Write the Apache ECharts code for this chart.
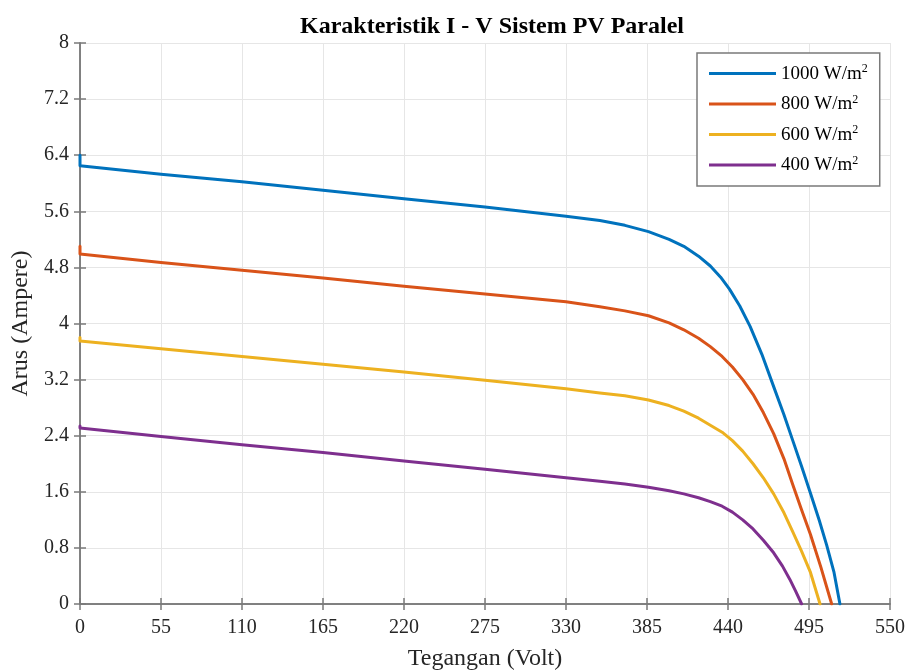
<!DOCTYPE html>
<html><head><meta charset="utf-8">
<script src="https://cdn.jsdelivr.net/npm/echarts@6/dist/echarts.min.js"></script>
<style>html,body{margin:0;padding:0;background:#fff}#c{width:911px;height:670px}</style>
</head><body><div id="c"></div>
<script>
const seriesNames = ['1000 W/m', '800 W/m', '600 W/m', '400 W/m'];
const colors = ['#0072BD', '#D95319', '#EDB120', '#7E2F8E'];
const xTicks = [0, 55, 110, 165, 220, 275, 330, 385, 440, 495, 550];
const yTicks = [0, 0.8, 1.6, 2.4, 3.2, 4, 4.8, 5.6, 6.4, 7.2, 8];

const v1000 = [0, 0, 55, 110, 165, 220, 275, 330, 353, 370, 386, 400, 410, 420, 428, 435, 441, 448, 455, 463, 471, 478, 484, 490, 496, 502, 507, 512, 516];
const i1000 = [6.40, 6.25, 6.13, 6.02, 5.90, 5.78, 5.66, 5.53, 5.47, 5.40, 5.31, 5.20, 5.10, 4.96, 4.82, 4.66, 4.49, 4.25, 3.96, 3.56, 3.10, 2.70, 2.33, 1.96, 1.58, 1.19, 0.84, 0.45, 0];

const v800 = [0, 0, 55, 110, 165, 220, 275, 330, 353, 370, 386, 400, 410, 420, 428, 436, 443, 450, 457, 464, 471, 478, 484, 490, 496, 503, 510.4];
const i800 = [5.10, 4.99, 4.87, 4.76, 4.65, 4.53, 4.42, 4.31, 4.24, 4.18, 4.11, 4.01, 3.91, 3.79, 3.67, 3.53, 3.38, 3.20, 2.99, 2.73, 2.43, 2.07, 1.70, 1.34, 0.99, 0.53, 0];

const v600 = [0, 0, 55, 110, 165, 220, 275, 330, 353, 370, 386, 400, 410, 420, 428, 436, 443, 450, 457, 464, 471, 478, 484, 490, 496, 502.5];
const i600 = [3.80, 3.75, 3.64, 3.53, 3.42, 3.31, 3.19, 3.07, 3.01, 2.97, 2.91, 2.83, 2.75, 2.65, 2.55, 2.45, 2.33, 2.18, 2.00, 1.80, 1.57, 1.30, 1.03, 0.75, 0.45, 0];

const v400 = [0, 0, 55, 110, 165, 220, 275, 330, 353, 370, 386, 400, 410, 420, 428, 436, 443, 450, 457, 464, 471, 477, 482, 486, 490];
const i400 = [2.54, 2.51, 2.39, 2.27, 2.16, 2.04, 1.92, 1.80, 1.75, 1.71, 1.665, 1.615, 1.57, 1.515, 1.46, 1.395, 1.31, 1.20, 1.07, 0.91, 0.73, 0.54, 0.35, 0.18, 0];

const allV = [v1000, v800, v600, v400];
const allI = [i1000, i800, i600, i400];

const font = '"Liberation Serif", "DejaVu Serif", serif';
const chart = echarts.init(document.getElementById('c'));

const series = seriesNames.map((n, k) => ({
  name: n,
  type: 'line',
  showSymbol: false,
  symbol: 'none',
  smooth: false,
  lineStyle: { width: 3, color: colors[k], join: 'round', cap: 'round' },
  itemStyle: { color: colors[k] },
  data: allV[k].map((v, j) => [v, allI[k][j]]),
  z: 10 - k
}));

const axisLineStyle = { color: '#7a7a7a', width: 1.5 };
chart.setOption({
  animation: false,
  backgroundColor: '#fff',
  title: {
    text: 'Karakteristik I - V Sistem PV Paralel',
    left: 487, top: 10, textAlign: 'center',
    textStyle: { fontFamily: font, fontWeight: 'bold', fontSize: 24, color: '#000' }
  },
  grid: { left: 80, right: 21, top: 43, bottom: 66, containLabel: false, outerBoundsMode: 'none' },
  legend: {
    left: 697, top: 53,
    orient: 'vertical',
    itemWidth: 67, itemHeight: 3,
    itemGap: 10,
    icon: 'rect',
    padding: [10, 12, 11, 12],
    borderColor: '#7a7a7a', borderWidth: 1.5,
    backgroundColor: '#fff',
    data: seriesNames,
    formatter: n => '{a|' + n + '}{s|2}',
    textStyle: {
      fontFamily: font, fontSize: 19, color: '#000',
      rich: {
        a: { fontFamily: font, fontSize: 19, color: '#000', height: 20, verticalAlign: 'bottom' },
        s: { fontFamily: font, fontSize: 12, color: '#000', verticalAlign: 'top', padding: [0, 0, 9, 0] }
      }
    }
  },
  xAxis: [{
    type: 'value', min: xTicks[0], max: xTicks[xTicks.length - 1], interval: 55,
    name: 'Tegangan (Volt)', nameLocation: 'middle', nameGap: 43,
    nameTextStyle: { fontFamily: font, fontSize: 24, color: '#262626' },
    axisLine: { show: true, lineStyle: axisLineStyle, onZero: false },
    axisTick: { show: true, inside: true, length: 6, lineStyle: axisLineStyle },
    axisLabel: { fontFamily: font, fontSize: 20, color: '#262626', margin: 14 },
    splitLine: { show: true, lineStyle: { color: '#e6e6e6', width: 1 } }
  }, {
    type: 'value', position: 'top', min: xTicks[0], max: xTicks[xTicks.length - 1], interval: 55,
    axisLine: { show: true, lineStyle: axisLineStyle },
    axisTick: { show: true, inside: true, length: 6, lineStyle: axisLineStyle },
    axisLabel: { show: false }, splitLine: { show: false }
  }],
  yAxis: [{
    type: 'value', min: yTicks[0], max: yTicks[yTicks.length - 1], interval: 0.8,
    name: 'Arus (Ampere)', nameLocation: 'middle', nameGap: 45,
    nameTextStyle: { fontFamily: font, fontSize: 24, color: '#262626' },
    axisLine: { show: true, lineStyle: axisLineStyle, onZero: false },
    axisTick: { show: true, inside: true, length: 6, lineStyle: axisLineStyle },
    axisLabel: { fontFamily: font, fontSize: 20, color: '#262626', margin: 11,
      formatter: v => String(parseFloat(v.toFixed(1))) },
    splitLine: { show: true, lineStyle: { color: '#e6e6e6', width: 1 } }
  }, {
    type: 'value', position: 'right', min: yTicks[0], max: yTicks[yTicks.length - 1], interval: 0.8,
    axisLine: { show: true, lineStyle: axisLineStyle },
    axisTick: { show: true, inside: true, length: 6, lineStyle: axisLineStyle },
    axisLabel: { show: false }, splitLine: { show: false }
  }],
  series: series
});
</script></body></html>
